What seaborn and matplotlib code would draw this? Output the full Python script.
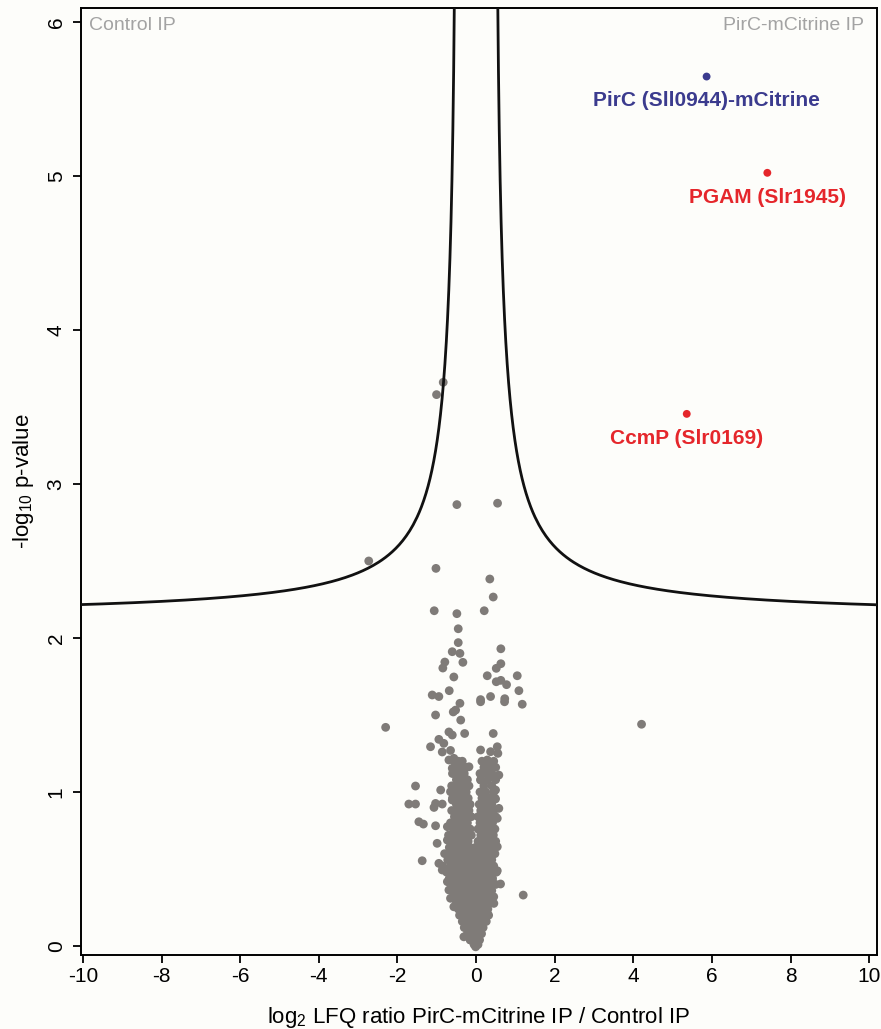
import numpy as np
import pandas as pd
import matplotlib
matplotlib.use("Agg")
import matplotlib.pyplot as plt
import seaborn as sns

# ---- data -----------------------------------------------------------------
# scattered proteins (log2 ratio, -log10 p)
sparse_x = [-0.835, -1.005, -0.488, 0.547, -2.73, -1.02, 0.35, 0.437, -1.064, -0.488,
            0.208, -0.453, -0.453, -0.606, -0.41, -0.335, 0.631, -0.794, -0.845, -0.565,
            0.631, 0.514, 0.285, 1.048, 0.514, 0.631, 0.776, 1.09, -0.682, -1.115,
            -0.946, 0.369, 0.115, 0.73, 4.21, -2.30, 1.175, -1.03, -0.41, -0.52,
            0.115, 0.725, -0.58, -0.39, -0.69, -0.605, -0.29, 0.437, -0.946, -1.158,
            -0.82, -0.86, -0.65, -0.565, -0.48, -0.69, 0.115, 0.37, 0.54, 0.555,
            0.285, 0.37, -0.18, -0.605, -0.39, -0.52, 0.2, 0.37, 0.58, 0.115,
            -1.54, -0.90, -0.65, -0.39, -0.31, 0.496, 0.24, 0.37, -1.71, -1.54,
            -1.07, -0.86, -1.03, -0.605, -0.39, -0.225, 0.496, 0.58, 0.285, -1.455,
            -1.34, -1.03, 0.54, 0.37, 0.115, -0.73, -0.605, -0.48, 0.37, 0.54,
            0.285, -0.99, -0.73, -1.37, -0.946, -0.86, -0.69, 0.54, 0.623, 0.41,
            1.20, -0.73, -0.69, -0.65, -0.565, 0.37, 0.453, 0.285, -0.31, -0.01,
            -0.14, 0.115]
sparse_y = [3.66, 3.58, 2.866, 2.875, 2.50, 2.452, 2.383, 2.266, 2.177, 2.158,
            2.177, 2.06, 1.97, 1.911, 1.90, 1.842, 1.93, 1.844, 1.805, 1.747,
            1.833, 1.803, 1.755, 1.755, 1.716, 1.725, 1.697, 1.658, 1.658, 1.63,
            1.62, 1.62, 1.60, 1.606, 1.44, 1.42, 1.57, 1.50, 1.576, 1.532,
            1.586, 1.586, 1.52, 1.467, 1.39, 1.37, 1.38, 1.38, 1.342, 1.294,
            1.316, 1.26, 1.27, 1.219, 1.186, 1.208, 1.273, 1.262, 1.294, 1.251,
            1.208, 1.186, 1.164, 1.154, 1.132, 1.121, 1.132, 1.10, 1.11, 1.078,
            1.039, 1.013, 1.002, 1.034, 0.99, 1.013, 0.98, 0.959, 0.922, 0.922,
            0.90, 0.922, 0.926, 0.948, 0.905, 0.959, 0.955, 0.894, 0.905, 0.807,
            0.792, 0.781, 0.829, 0.818, 0.807, 0.775, 0.797, 0.753, 0.732, 0.645,
            0.688, 0.667, 0.688, 0.554, 0.537, 0.494, 0.505, 0.489, 0.403, 0.429,
            0.331, 0.418, 0.364, 0.31, 0.255, 0.342, 0.277, 0.212, 0.06, -0.005,
            0.039, 0.082]

# dense core of unchanged proteins, listed row by row
core_levels = [1.20, 1.16, 1.12, 1.08, 1.04, 1.00, 0.96, 0.92, 0.88, 0.84,
               0.80, 0.76, 0.72, 0.68, 0.64, 0.60, 0.56, 0.52, 0.48, 0.44,
               0.40, 0.36, 0.32, 0.28, 0.24, 0.20, 0.16, 0.12, 0.08, 0.04, 0.01]
core_ratios = [
    [-0.55, -0.45, -0.35, 0.15, 0.3, 0.45],
    [-0.5, -0.4, -0.25, 0.2, 0.35, 0.5],
    [-0.6, -0.45, -0.3, 0.1, 0.25, 0.4],
    [-0.5, -0.35, -0.22, 0.12, 0.3, 0.5],
    [-0.62, -0.45, -0.3, -0.18, 0.2, 0.4],
    [-0.55, -0.4, -0.25, 0.1, 0.25, 0.45],
    [-0.6, -0.45, -0.32, -0.2, 0.15, 0.3, 0.48],
    [-0.5, -0.38, -0.25, -0.15, 0.08, 0.22, 0.4],
    [-0.62, -0.45, -0.3, -0.18, 0.12, 0.3, 0.45],
    [-0.55, -0.4, -0.27, -0.12, 0.05, 0.2, 0.38, 0.5],
    [-0.65, -0.5, -0.35, -0.22, 0.1, 0.25, 0.42],
    [-0.58, -0.42, -0.3, -0.15, 0.05, 0.18, 0.33, 0.48],
    [-0.7, -0.52, -0.38, -0.25, -0.12, 0.12, 0.28, 0.44],
    [-0.6, -0.45, -0.32, -0.2, 0.05, 0.2, 0.35, 0.5],
    [-0.68, -0.55, -0.4, -0.28, -0.15, -0.02, 0.12, 0.28, 0.42],
    [-0.8, -0.62, -0.48, -0.35, -0.22, -0.08, 0.05, 0.2, 0.35, 0.48],
    [-0.72, -0.58, -0.42, -0.3, -0.15, 0.0, 0.12, 0.25, 0.4],
    [-0.85, -0.65, -0.5, -0.38, -0.25, -0.1, 0.02, 0.15, 0.3, 0.45],
    [-0.75, -0.6, -0.45, -0.32, -0.18, -0.05, 0.08, 0.22, 0.38, 0.52],
    [-0.68, -0.52, -0.4, -0.28, -0.15, -0.02, 0.12, 0.27, 0.42],
    [-0.6, -0.45, -0.32, -0.2, -0.08, 0.05, 0.18, 0.32, 0.5],
    [-0.62, -0.5, -0.38, -0.25, -0.12, 0.0, 0.12, 0.25, 0.4],
    [-0.55, -0.42, -0.3, -0.18, -0.05, 0.08, 0.2, 0.33, 0.45],
    [-0.5, -0.38, -0.25, -0.12, 0.0, 0.12, 0.25, 0.38],
    [-0.45, -0.32, -0.2, -0.08, 0.05, 0.17, 0.3],
    [-0.42, -0.3, -0.18, -0.06, 0.06, 0.18, 0.32],
    [-0.35, -0.22, -0.1, 0.02, 0.14, 0.26],
    [-0.3, -0.18, -0.06, 0.06, 0.18],
    [-0.22, -0.1, 0.02, 0.14],
    [-0.15, -0.03, 0.09],
    [-0.05, 0.05],
]

# significant interactors
hit_names = ["PirC (Sll0944)-mCitrine", "PGAM (Slr1945)", "CcmP (Slr0169)"]
hit_x = [5.865, 7.41, 5.36]
hit_y = [5.645, 5.02, 3.455]
hit_colors = ["#3b3b8e", "#e5262b", "#e5262b"]

# significance cut-off (Perseus style: s0-modified two-sample t-test, df = 4)
s0_offset = 0.5
t_threshold = 5.04

x_ticks = [-10, -8, -6, -4, -2, 0, 2, 4, 6, 8, 10]
y_ticks = [0, 1, 2, 3, 4, 5, 6]

# ---- style ----------------------------------------------------------------
sns.set_theme(style="white")
plt.rcParams["font.family"] = ["Liberation Sans", "DejaVu Sans"]
plt.rcParams["mathtext.fontset"] = "custom"
plt.rcParams["mathtext.rm"] = "Liberation Sans"
plt.rcParams["mathtext.it"] = "Liberation Sans"
plt.rcParams["mathtext.bf"] = "Liberation Sans:bold"

bg = "#fdfdfa"
grey = "#7f7b78"

W, H = 881, 1029
fig = plt.figure(figsize=(W / 100, H / 100), dpi=100, facecolor=bg)
ax = fig.add_axes([81 / W, 1 - 955 / H, (877 - 81) / W, (955 - 8) / H])
ax.set_facecolor(bg)

# background proteins
bx = list(sparse_x)
by = list(sparse_y)
for lvl, row in zip(core_levels, core_ratios):
    bx.extend(row)
    by.extend([lvl] * len(row))
df_bg = pd.DataFrame({"ratio": bx, "logp": by})
sns.scatterplot(data=df_bg, x="ratio", y="logp", ax=ax, color=grey, s=40,
                edgecolor="none", linewidth=0, zorder=2, legend=False)

# cut-off curve
def cutoff(xabs):
    t = t_threshold * xabs / (xabs - s0_offset)
    root = np.sqrt(4.0 + t * t)
    one_minus_r = 4.0 / (root * (root + t))
    r = t / root
    p = one_minus_r ** 2 * (1.0 + r / 2.0)
    return -np.log10(p)

xa = np.concatenate([s0_offset + np.geomspace(0.03, 1.0, 300), np.linspace(1.6, 10.4, 200)])
xa = np.unique(xa)
ya = cutoff(xa)
for sign in (1, -1):
    df_c = pd.DataFrame({"ratio": sign * xa, "logp": ya})
    sns.lineplot(data=df_c, x="ratio", y="logp", ax=ax, color="#111111",
                 linewidth=2.0, sort=False, estimator=None, zorder=3)

# highlighted hits
df_hit = pd.DataFrame({"ratio": hit_x, "logp": hit_y, "name": hit_names})
sns.scatterplot(data=df_hit, x="ratio", y="logp", hue="name",
                palette=dict(zip(hit_names, hit_colors)), s=32,
                edgecolor="none", linewidth=0, ax=ax, zorder=4, legend=False)
for name, x, y, c in zip(hit_names, hit_x, hit_y, hit_colors):
    ax.annotate(name, (x, y), xytext=(0, -21.5), textcoords="offset points",
                ha="center", va="baseline", color=c, fontsize=15,
                fontweight="bold")

# axes
ax.set_xlim(-10.05, 10.2)
ax.set_ylim(-0.058, 6.09)
ax.set_xticks(x_ticks)
ax.set_xticklabels([str(v) for v in x_ticks])
ax.set_yticks(y_ticks)
ax.set_yticklabels([str(v) for v in y_ticks], rotation=90, va="center")
ax.tick_params(axis="both", which="major", length=6, width=1.3, color="black",
               labelsize=15, labelcolor="black", direction="out",
               bottom=True, left=True)
ax.tick_params(axis="x", pad=3)
ax.tick_params(axis="y", pad=5)
for sp in ax.spines.values():
    sp.set_visible(True)
    sp.set_color("black")
    sp.set_linewidth(1.4)

ax.set_xlabel(r"log$_2$ LFQ ratio PirC-mCitrine IP / Control IP", fontsize=16,
              color="black", labelpad=13)
ax.set_ylabel(r"-log$_{10}$ p-value", fontsize=16, color="black", labelpad=8)

# corner captions
fig.text(89 / W, 1 - 30 / H, "Control IP", color="#a3a3a3", fontsize=14,
         ha="left", va="baseline")
fig.text(864 / W, 1 - 30 / H, "PirC-mCitrine IP", color="#a3a3a3", fontsize=14,
         ha="right", va="baseline")

fig.savefig("out.png", dpi=100, facecolor=bg)
